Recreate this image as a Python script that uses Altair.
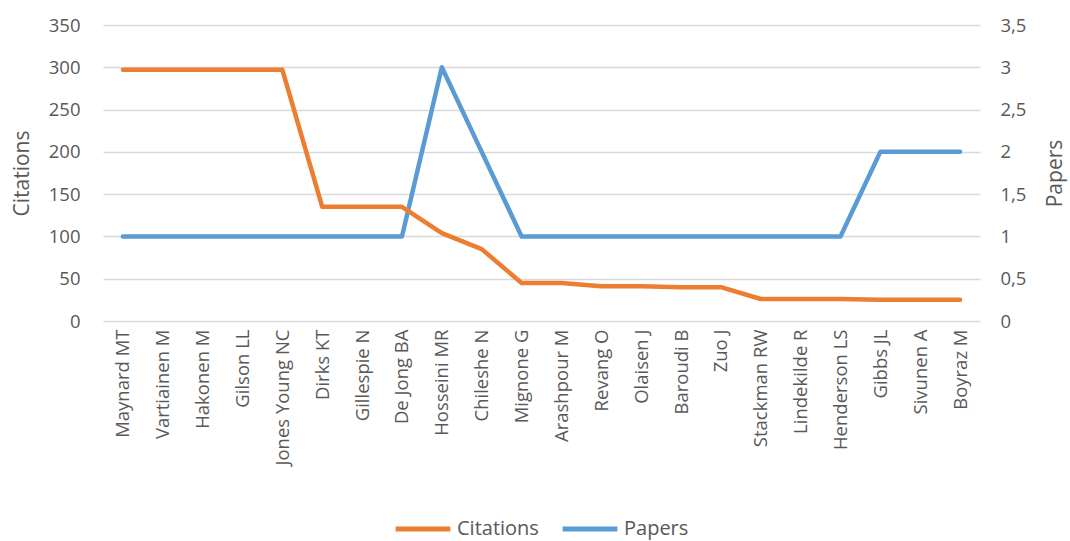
import altair as alt
import pandas as pd

authors = ["Maynard MT", "Vartiainen M", "Hakonen M", "Gilson LL", "Jones Young NC",
           "Dirks KT", "Gillespie N", "De Jong BA", "Hosseini MR", "Chileshe N",
           "Mignone G", "Arashpour M", "Revang O", "Olaisen J", "Baroudi B", "Zuo J",
           "Stackman RW", "Lindekilde R", "Henderson LS", "Gibbs JL", "Sivunen A", "Boyraz M"]
citations = [297, 297, 297, 297, 297, 135, 135, 135, 104, 85, 45, 45, 41, 41, 40, 40,
             26, 26, 26, 25, 25, 25]
papers = [1, 1, 1, 1, 1, 1, 1, 1, 3, 2, 1, 1, 1, 1, 1, 1, 1, 1, 1, 2, 2, 2]

df = pd.concat([
    pd.DataFrame({"author": authors, "value": citations, "series": "Citations"}),
    pd.DataFrame({"author": authors, "value": papers, "series": "Papers"}),
])

FONT = "Open Sans"
GREY = "#595959"
LBL = 18.5
TTL = 21

color = alt.Color(
    "series:N",
    scale=alt.Scale(domain=["Citations", "Papers"], range=["#ED7D31", "#5B9BD5"]),
    legend=alt.Legend(
        title=None, orient="none", direction="horizontal",
        legendX=290, legendY=474, symbolType="stroke", symbolSize=3000,
        symbolStrokeWidth=5, labelFontSize=20, labelColor=GREY, labelFont=FONT,
        columnPadding=13, labelOffset=4,
    ),
)

x = alt.X("author:N", sort=authors, title=None,
          scale=alt.Scale(type="point", padding=0.5),
          axis=alt.Axis(labelAngle=-90, labelFontSize=LBL, labelColor=GREY, labelFont=FONT,
                        domain=False, ticks=False, labelPadding=8, grid=False))

base = alt.Chart(df)

cit = base.transform_filter(alt.datum.series == "Citations").mark_line(
    strokeWidth=4.5, strokeCap="round", strokeJoin="round").encode(
    x=x,
    y=alt.Y("value:Q", title="Citations", scale=alt.Scale(domain=[0, 350]),
            axis=alt.Axis(orient="left", values=[0, 50, 100, 150, 200, 250, 300, 350],
                          labelFontSize=LBL, labelColor=GREY, labelFont=FONT,
                          titleFontSize=TTL, titleColor=GREY, titleFont=FONT,
                          titleFontWeight="normal", titleAngle=270,
                          titleAlign="center", titleBaseline="middle",
                          titleX=-81, titleY=148,
                          domain=False, ticks=False, labelPadding=23,
                          grid=True, gridColor="#D9D9D9", gridWidth=1.3)),
    color=color,
)

pap = base.transform_filter(alt.datum.series == "Papers").mark_line(
    strokeWidth=4.5, strokeCap="round", strokeJoin="round").encode(
    x=x,
    y=alt.Y("value:Q", title="Papers", scale=alt.Scale(domain=[0, 3.5]),
            axis=alt.Axis(orient="right", values=[0, 0.5, 1, 1.5, 2, 2.5, 3, 3.5],
                          labelExpr="replace(toString(datum.value), '.', ',')",
                          labelFontSize=LBL, labelColor=GREY, labelFont=FONT,
                          titleFontSize=TTL, titleColor=GREY, titleFont=FONT,
                          titleFontWeight="normal", titleAngle=270,
                          titleAlign="center", titleBaseline="middle",
                          titleX=75, titleY=148,
                          domain=False, ticks=False, labelPadding=20,
                          grid=False)),
    color=color,
)

chart = alt.layer(pap, cit).resolve_scale(y="independent").properties(
    width=877, height=296,
    autosize=alt.AutoSizeParams(type="none"),
    padding={"left": 103, "top": 25, "right": 90, "bottom": 220},
).configure_view(stroke=None)

chart.save("out.html", embed_options={"renderer": "svg", "actions": False})
